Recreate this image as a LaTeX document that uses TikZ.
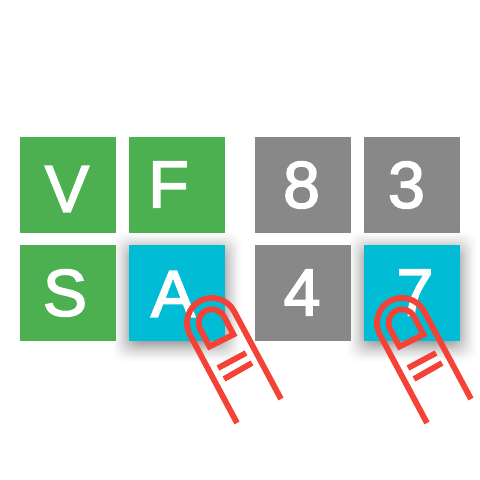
\documentclass[tikz,border=0pt]{standalone}
\usepackage{fontspec}
\newfontfamily\keyfont{Liberation Sans}[RawFeature={embolden=2.5}]
\begin{document}
\begin{tikzpicture}
        [x=0.25mm, y=-0.25mm,
         keybox/.style={minimum width=24mm, minimum height=24mm, inner sep=0pt},
         greenkey/.style={keybox, fill=keygreen},
         graykey/.style={keybox, fill=keygray},
         cyankey/.style={keybox, fill=keycyan},
         keyletter/.style={inner sep=0pt, text=white, font=\keyfont\fontsize{47}{47}\selectfont},
         fingerline/.style={draw=fingerred, line width=1.45mm}]
        \definecolor{keygreen}{HTML}{4CAF50}
        \definecolor{keygray}{HTML}{888888}
        \definecolor{keycyan}{HTML}{00BCD4}
        \definecolor{fingerred}{HTML}{F44336}
        \useasboundingbox (0,0) rectangle (480,480);
        % soft shadows under the touched keys
        \foreach \cx in {177,412} {
            \foreach \grow in {19,18,...,-3} {
                \pgfmathsetmacro\shade{0.032*(1-\grow/20)}
                \fill [black, opacity=\shade, rounded corners=3mm] (\cx-48-\grow,293-48-\grow+4) rectangle (\cx+48+\grow,293+48+\grow+4);
            }
        }
        \node [greenkey] (keyv) at (68,185) {};
        \node [greenkey] (keyf) at (177,185) {};
        \node [graykey] (key8) at (303,185) {};
        \node [graykey] (key3) at (412,185) {};
        \node [greenkey] (keys) at (68,293) {};
        \node [cyankey] (keya) at (177,293) {};
        \node [graykey] (key4) at (303,293) {};
        \node [cyankey] (key7) at (412,293) {};
        \node [keyletter] (letterv) at (67,189) {V};
        \node [keyletter] (letterf) at (168.5,184.5) {F};
        \node [keyletter] (letter8) at (301.5,185) {8};
        \node [keyletter] (letter3) at (406.5,185) {3};
        \node [keyletter] (letters) at (65,293) {S};
        \node [keyletter] (lettera) at (173,294) {A};
        \node [keyletter] (letter4) at (302,292.5) {4};
        \node [keyletter] (letter7) at (415,292.5) {7};
        % one finger on each touched key
        \foreach \dx in {0,190} {
            \begin{scope}[xshift=\dx*0.25mm]
                \draw [fingerline] (237,423) -- (189.9,334.7) arc [start angle=152, end angle=332, radius=25] -- (281,399);
                \draw [fingerline] (209.5,346.6) -- (200.1,329.1) arc [start angle=152, end angle=332, radius=13.5] -- (233.5,334.6) -- cycle;
                \draw [fingerline] (218,368) -- (246,353);
                \draw [fingerline] (224,379) -- (252,363);
            \end{scope}
        }
    \end{tikzpicture}
\end{document}
